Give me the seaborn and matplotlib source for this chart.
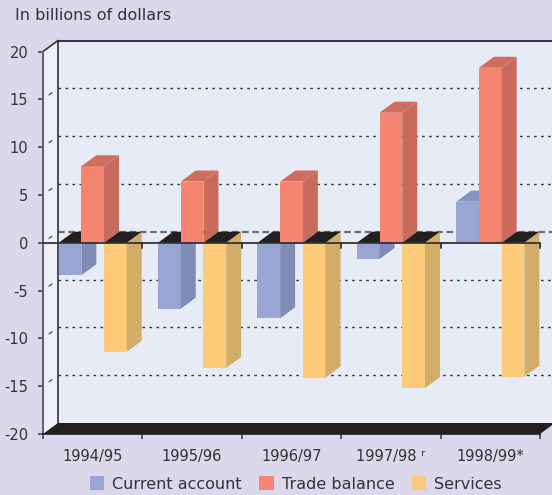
import numpy as np
import pandas as pd
import matplotlib
matplotlib.use("Agg")
import matplotlib.pyplot as plt
import seaborn as sns
from matplotlib.patches import Polygon, Patch

# Data (billions of dollars)
years = ["1994/95", "1995/96", "1996/97", "1997/98", "1998/99"]
year_labels = ["1994/95", "1995/96", "1996/97", "1997/98 \u02b3", "1998/99*"]
series = ["Current account", "Trade balance", "Services"]
current_account = [-3.4, -6.9, -7.9, -1.7, 4.3]
trade_balance = [8.0, 6.4, 6.4, 13.6, 18.3]
services = [-11.4, -13.1, -14.1, -15.2, -14.0]
y_ticks = [-20, -15, -10, -5, 0, 5, 10, 15, 20]

face_colors = ["#99a6d4", "#f38571", "#fecb7a"]
side_colors = ["#7e8cb6", "#c96b5c", "#d3ac68"]
top_colors = ["#8793c2", "#cf6d5e", "#e2b970"]
BG = "#dad8ea"
WALL = "#e7ebf6"
LWALL = "#eef0f9"
DARK = "#231f20"
TXT = "#333333"

df = pd.DataFrame({
    "year": years * 3,
    "series": np.repeat(series, len(years)),
    "value": current_account + trade_balance + services,
})

sns.set_theme(style="white")
plt.rcParams["font.family"] = ["DejaVu Sans"]

W, H = 552, 495
fig = plt.figure(figsize=(W / 100, H / 100), dpi=100, facecolor=BG)
ax_l, ax_r, ax_t, ax_b = 43, 540, 51.5, 434
ax = fig.add_axes([ax_l / W, 1 - ax_b / H, (ax_r - ax_l) / W, (ax_b - ax_t) / H])
ax.set_facecolor("none")

sns.barplot(data=df, x="year", y="value", hue="series", order=years, hue_order=series,
            palette=face_colors, saturation=1, width=0.685, gap=0, errorbar=None,
            legend=False, linewidth=0, ax=ax)
ax.set_xlim(-0.5, 4.5)
ax.set_ylim(-20, 20)

# depth of the pseudo 3D effect, converted from pixels to data units
dx = 15 / (ax_r - ax_l) * 5
dy = 11 / (ax_b - ax_t) * 40
xl, xr = -0.5, 4.5

# walls and floor
ax.add_patch(Polygon([(xl + dx, -20 + dy), (xr + dx + 0.2, -20 + dy), (xr + dx + 0.2, 20 + dy),
                      (xl + dx, 20 + dy)], closed=True, fc=WALL, ec="none", zorder=0, clip_on=False))
ax.add_patch(Polygon([(xl, -20), (xl + dx, -20 + dy), (xl + dx, 20 + dy), (xl, 20)],
                     closed=True, fc=LWALL, ec="none", zorder=0, clip_on=False))
ax.add_patch(Polygon([(xl, -20), (xr, -20), (xr + dx, -20 + dy), (xl + dx, -20 + dy)],
                     closed=True, fc=DARK, ec="none", zorder=2, clip_on=False))

# back wall gridlines
for t in y_ticks[1:-1]:
    if t == 0:
        ax.plot([xl + dx, xr + dx + 0.2], [dy, dy], color="#6e6e6e", lw=1.6,
                ls=(0, (3, 1.6)), zorder=1, clip_on=False)
    else:
        ax.plot([xl + dx, xr + dx + 0.2], [t + dy, t + dy], color=TXT, lw=0.95,
                ls=(0, (2, 3.3)), zorder=1, clip_on=False)
    # small marks on the side wall
    ax.plot([xl + 0.4 * dx, xl + 0.6 * dx], [t + 0.4 * dy, t + 0.6 * dy], color=TXT,
            lw=0.8, zorder=1, clip_on=False)
ax.plot([xl + dx, xr + dx + 0.2], [20 + dy, 20 + dy], color=TXT, lw=1.4, zorder=1, clip_on=False)
ax.plot([xl + dx, xl + dx], [-20 + dy, 20 + dy], color=TXT, lw=1.2, zorder=1, clip_on=False)
ax.plot([xl, xl + dx], [20, 20 + dy], color=TXT, lw=1.2, zorder=1, clip_on=False)

# 3D sides and tops for the seaborn bars
n = len(years)
bars = []
for k, p in enumerate(ax.patches[:3 * n]):
    bars.append((p.get_x(), p, k // n))
bars.sort(key=lambda b: b[0])
for rank, (x0, p, h) in enumerate(bars):
    z = 3 + 0.1 * rank
    p.set_zorder(z)
    x1 = x0 + p.get_width()
    v = p.get_y() + p.get_height()
    if abs(v) < 1e-9:
        continue
    ax.add_patch(Polygon([(x1, 0), (x1 + dx, dy), (x1 + dx, v + dy), (x1, v)],
                         closed=True, fc=side_colors[h], ec="none", zorder=z))
    yt = max(0, v)
    ax.add_patch(Polygon([(x0, yt), (x1, yt), (x1 + dx, yt + dy), (x0 + dx, yt + dy)],
                         closed=True, fc=DARK if v < 0 else top_colors[h], ec="none", zorder=z))

# front zero line with category ticks
ax.plot([xl, xr], [0, 0], color=TXT, lw=1.3, zorder=20, clip_on=False)
tick_d = 5 / (ax_b - ax_t) * 40
for b in np.arange(0.5, 4.6, 1.0):
    ax.plot([b, b], [0, -tick_d], color=TXT, lw=1.3, zorder=20, clip_on=False)

# axes styling
for s in ["top", "right"]:
    ax.spines[s].set_visible(False)
ax.spines["left"].set_color("#666666")
ax.spines["left"].set_linewidth(1.5)
ax.spines["bottom"].set_color(DARK)
ax.spines["bottom"].set_linewidth(1.2)
ax.set_yticks(y_ticks)
ax.set_yticklabels([str(t) for t in y_ticks])
ax.set_xticks(range(n))
ax.set_xticklabels(year_labels)
ax.set_xticks(np.arange(-0.5, 4.6, 1.0), minor=True)
ax.tick_params(axis="y", length=3.6, width=1.2, color="#444444", pad=7,
               labelsize=10.5, labelcolor=TXT, left=True)
ax.tick_params(axis="x", which="major", length=0, pad=11, labelsize=10.5, labelcolor=TXT)
ax.tick_params(axis="x", which="minor", length=3.6, width=1.2, color="#444444",
               direction="out", bottom=True)
ax.set_xlabel("")
ax.set_ylabel("")

fig.text(15 / W, 1 - 15 / H, "In billions of dollars", fontsize=11.5, color=TXT, va="center")

handles = [Patch(facecolor=c, edgecolor="none") for c in face_colors]
fig.legend(handles, series, loc="center", bbox_to_anchor=(0.536, 1 - 484 / H), ncol=3,
           frameon=False, fontsize=11.5, handlelength=0.9, handleheight=0.9,
           handletextpad=0.5, columnspacing=1.1, labelcolor=TXT)

fig.savefig("out.png", dpi=100, facecolor=BG)
